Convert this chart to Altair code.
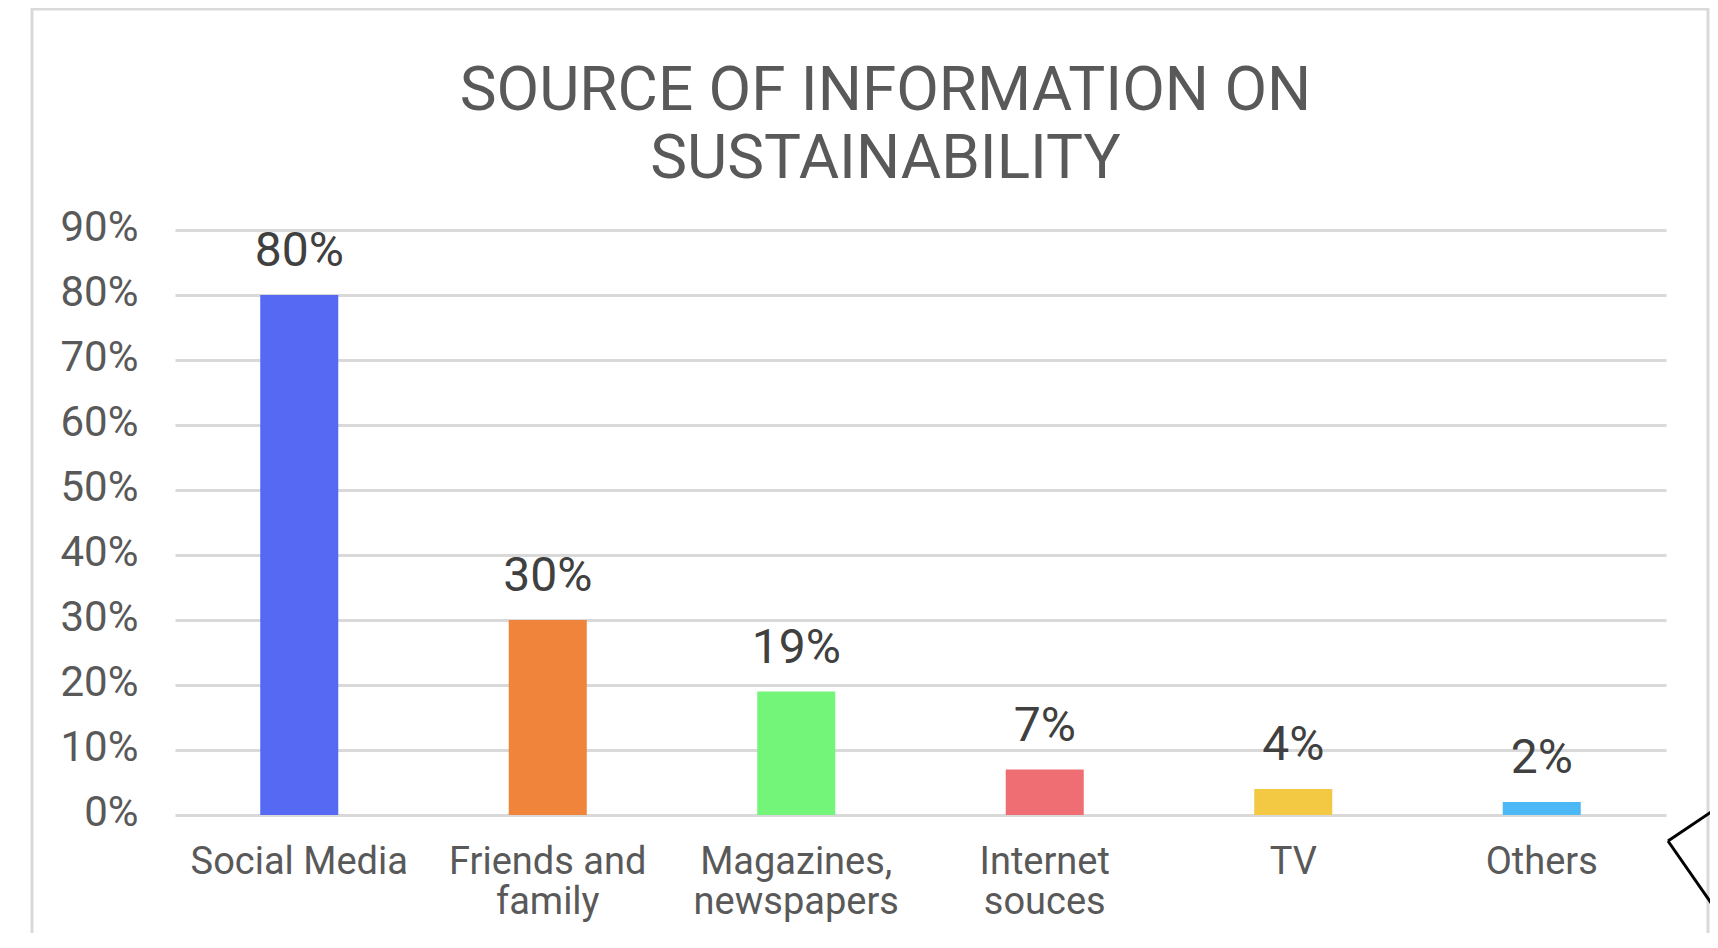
import altair as alt
import pandas as pd

# ---- data ----
categories = ["Social Media", "Friends and|family", "Magazines,|newspapers",
              "Internet|souces", "TV", "Others"]
values = [80, 30, 19, 7, 4, 2]
value_labels = ["80%", "30%", "19%", "7%", "4%", "2%"]
bar_colors = ["#5569F3", "#F0843A", "#73F57A", "#EF6E74", "#F3C944", "#4DB8F6"]
y_ticks = [0, 10, 20, 30, 40, 50, 60, 70, 80, 90]
title_lines = ["SOURCE OF INFORMATION ON", "SUSTAINABILITY"]

df = pd.DataFrame({
    "category": categories,
    "value": values,
    "label": value_labels,
    "color": bar_colors,
})

FONT = "Roboto"
W, H = 1491, 585

x_enc = alt.X(
    "category:N",
    sort=categories,
    scale=alt.Scale(paddingInner=0.686, paddingOuter=0.343),
    axis=alt.Axis(
        title=None, labelAngle=0, labelExpr="split(datum.label, '|')",
        labelFont=FONT, labelFontSize=38, labelColor="#595959",
        labelLineHeight=40, labelPadding=28, labelLimit=500,
        ticks=False, tickSize=0, domain=False, grid=False,
    ),
)
y_enc = alt.Y(
    "value:Q",
    scale=alt.Scale(domain=[0, 90], nice=False, zero=True),
    axis=alt.Axis(
        title=None, values=y_ticks, labelExpr="datum.value + '%'",
        labelFont=FONT, labelFontSize=42, labelColor="#595959",
        labelPadding=37, labelOffset=-3,
        ticks=False, tickSize=0, domain=False,
        grid=True, gridColor="#d9d9d9", gridWidth=3,
    ),
)

base = alt.Chart(df)
bars = base.mark_bar().encode(
    x=x_enc, y=y_enc, color=alt.Color("color:N", scale=None)
)
labels = base.mark_text(
    font=FONT, fontSize=48, color="#404040", baseline="alphabetic", dy=-29
).encode(x=x_enc, y=y_enc, text="label:N")

one = alt.Chart(pd.DataFrame({"k": [0]}))
frame = one.mark_rect(fill="transparent", stroke="#d9d9d9", strokeWidth=3).encode(
    x=alt.value(-143), x2=alt.value(1533), y=alt.value(-221), y2=alt.value(800)
)
corner1 = one.mark_rule(color="black", strokeWidth=3).encode(
    x=alt.value(1542), y=alt.value(578), x2=alt.value(1493), y2=alt.value(611)
)
corner2 = one.mark_rule(color="black", strokeWidth=3).encode(
    x=alt.value(1493), y=alt.value(611), x2=alt.value(1543), y2=alt.value(683)
)

chart = alt.layer(frame, bars, labels, corner1, corner2).properties(
    width=W,
    height=H,
    background="white",
    padding={"left": 167, "top": 222, "right": 44, "bottom": 118},
    autosize=alt.AutoSizeParams(type="none"),
    title=alt.TitleParams(
        text=title_lines, font=FONT, fontSize=62, fontWeight="normal",
        color="#595959", lineHeight=68, anchor="middle", frame="group",
        dx=-35, offset=-183,
    ),
).configure_view(stroke="transparent", strokeWidth=0)

chart.save("out.html", embed_options={"renderer": "svg", "actions": False})
